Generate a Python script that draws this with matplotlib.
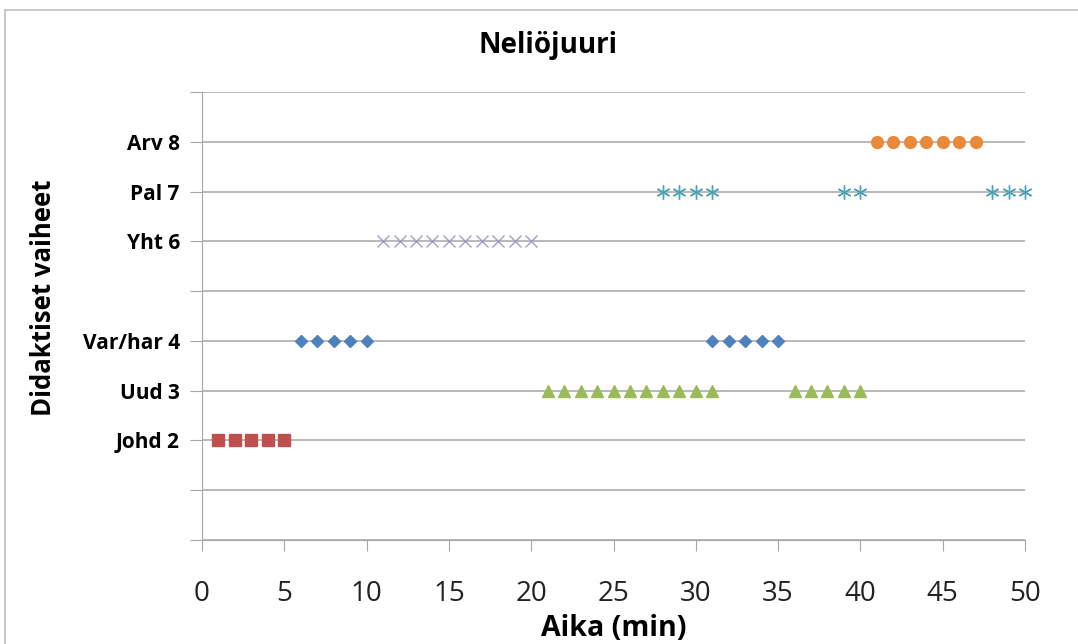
import matplotlib
matplotlib.use("Agg")
import matplotlib.pyplot as plt
from matplotlib.patches import Rectangle

plt.rcParams['font.family'] = ['Open Sans', 'DejaVu Sans']

title = "Neliöjuuri"
xlabel = "Aika (min)"
ylabel = "Didaktiset vaiheet"

ytick_vals = [0, 1, 2, 3, 4, 5, 6, 7, 8, 9]
ytick_labels = ["", "", "Johd 2", "Uud 3", "Var/har 4", "", "Yht 6", "Pal 7", "Arv 8", ""]
xtick_vals = [0, 5, 10, 15, 20, 25, 30, 35, 40, 45, 50]

# series: x times and level
varhar_x = [6, 7, 8, 9, 10, 31, 32, 33, 34, 35]
varhar_y = [4] * len(varhar_x)
johd_x = [1, 2, 3, 4, 5]
johd_y = [2] * len(johd_x)
uud_x = [21, 22, 23, 24, 25, 26, 27, 28, 29, 30, 31, 36, 37, 38, 39, 40]
uud_y = [3] * len(uud_x)
yht_x = [11, 12, 13, 14, 15, 16, 17, 18, 19, 20]
yht_y = [6] * len(yht_x)
pal_x = [28, 29, 30, 31, 39, 40, 48, 49, 50]
pal_y = [7] * len(pal_x)
arv_x = [41, 42, 43, 44, 45, 46, 47]
arv_y = [8] * len(arv_x)

fig = plt.figure(figsize=(10.78, 6.44), dpi=100)
fig.patches.append(Rectangle((5 / 1078, -0.1), 1.2, (634 / 644) + 0.1,
                             transform=fig.transFigure, fill=False,
                             edgecolor='#BFBFBF', linewidth=1.2))

ax = fig.add_axes([202 / 1078, 1 - 540 / 644, (1025 - 202) / 1078, (540 - 92) / 644])

ax.set_xlim(0, 50)
ax.set_ylim(0, 9)
ax.set_yticks(ytick_vals)
ax.set_yticklabels(ytick_labels, fontsize=15, fontweight='bold')
ax.set_xticks(xtick_vals)
ax.set_xticklabels([str(v) for v in xtick_vals], fontsize=20, color='#222222')
ax.grid(axis='y', color='#A6A6A6', linewidth=1.1)
ax.set_axisbelow(True)
for s in ['top', 'right']:
    ax.spines[s].set_visible(False)
ax.spines['left'].set_color('#A6A6A6')
ax.spines['bottom'].set_color('#A6A6A6')
ax.tick_params(axis='y', length=8.5, color='#A6A6A6', pad=7.5)
ax.tick_params(axis='x', length=8, color='#A6A6A6', pad=21)

ax.plot(varhar_x, varhar_y, linestyle='none', marker='D', markersize=6, color='#4F81BD', clip_on=False)
ax.plot(johd_x, johd_y, linestyle='none', marker='s', markersize=8, color='#C0504D', clip_on=False)
ax.plot(uud_x, uud_y, linestyle='none', marker='^', markersize=8.5, color='#9BBB59', clip_on=False)
ax.plot(yht_x, yht_y, linestyle='none', marker='x', markersize=8, markeredgewidth=1.0, color='#A99BC9', clip_on=False)
ax.plot(pal_x, pal_y, linestyle='none', marker=(6, 2, 0), markersize=10, markeredgewidth=1.0, color='#4AA3B8', clip_on=False)
ax.plot(arv_x, arv_y, linestyle='none', marker='o', markersize=8.5, color='#E9893A', clip_on=False)

fig.text(548 / 1078, 1 - 46 / 644, title, ha='center', va='center', fontsize=20, fontweight='bold')
fig.text(614 / 1078, 1 - 628 / 644, xlabel, ha='center', va='center', fontsize=20.5, fontweight='bold')
fig.text(44 / 1078, 1 - 298 / 644, ylabel, ha='center', va='center', rotation=90, fontsize=18.5, fontweight='bold')

fig.savefig("out.png", dpi=100)
